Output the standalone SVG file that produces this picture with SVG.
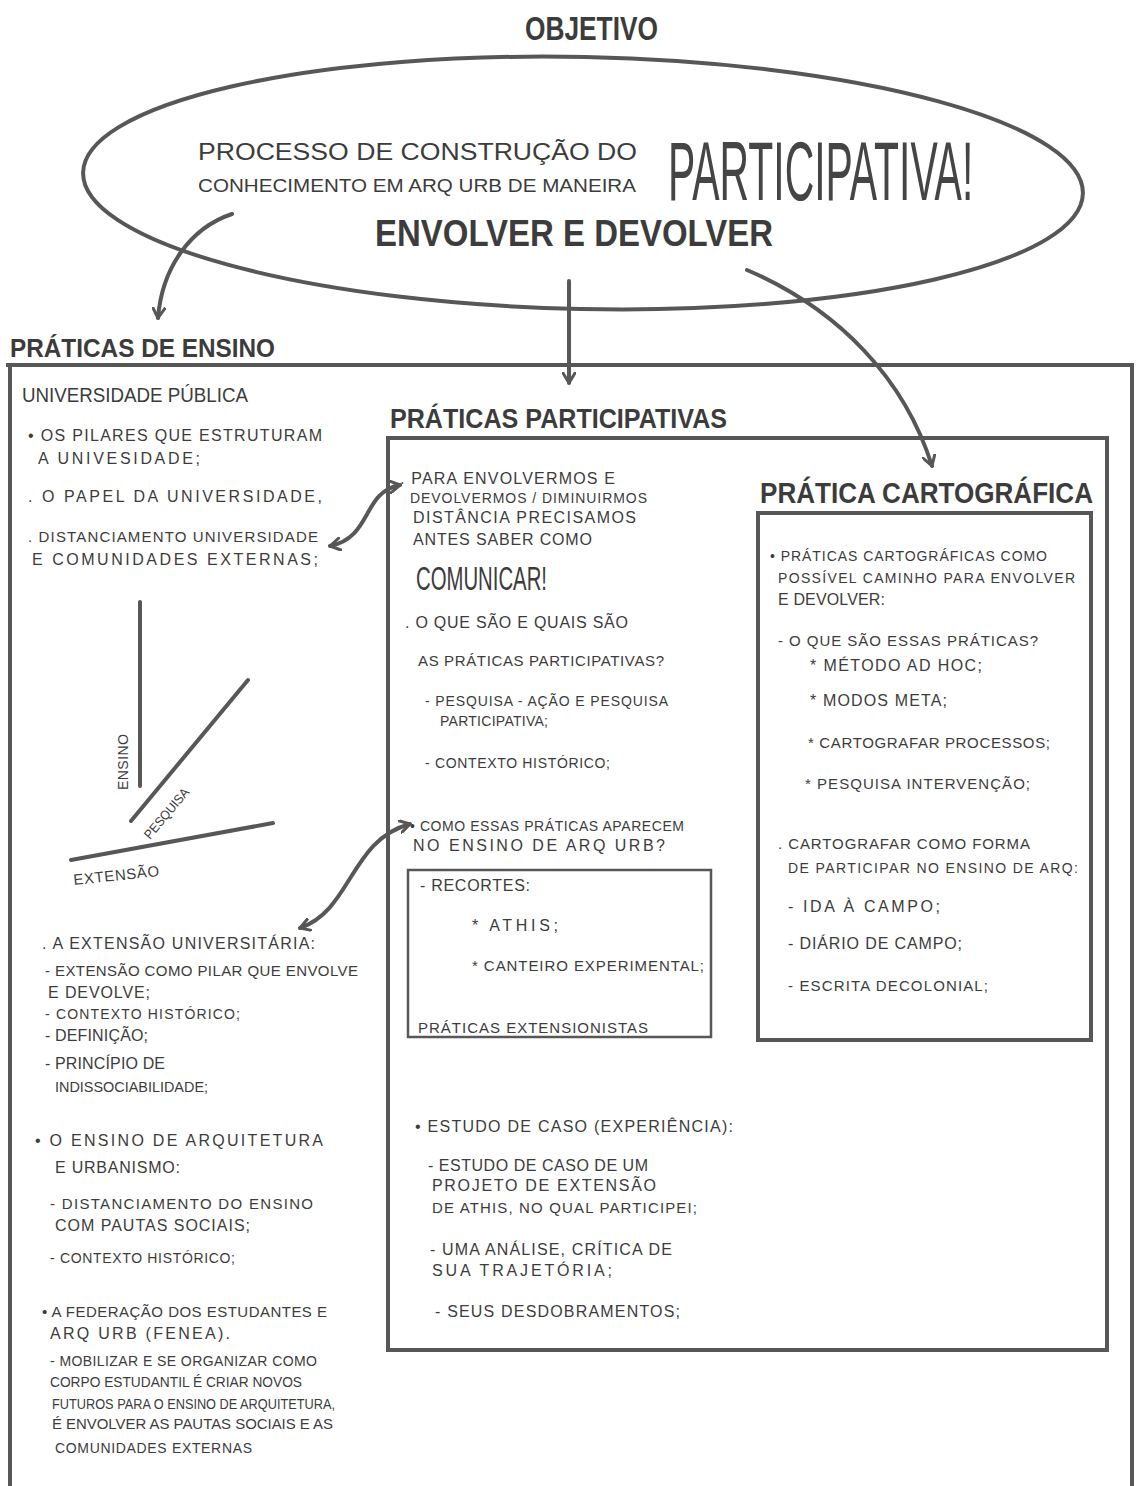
<svg xmlns="http://www.w3.org/2000/svg" width="1136" height="1486" viewBox="0 0 1136 1486">
<style>
.t{font-family:"Liberation Sans",Arial,sans-serif;fill:#3c3c3c;font-size:16px}
.m{font-size:15px}
.s{font-size:14px}
.xs{font-size:14px}
.h{font-weight:bold}
.big{font-family:"Liberation Sans",Arial,sans-serif;font-size:84px;fill:#454545}
.box{fill:none;stroke:#575757;stroke-width:4}
.ln{fill:none;stroke:#575757;stroke-width:4;stroke-linecap:round}
</style>
<defs>
<marker id="arr" viewBox="0 0 14 14" refX="11" refY="7" markerWidth="14" markerHeight="14" markerUnits="userSpaceOnUse" orient="auto-start-reverse">
<path d="M1,1 L11,7 L1,13" fill="none" stroke="#575757" stroke-width="3" stroke-linecap="round" stroke-linejoin="round"/>
</marker>
</defs>
<rect width="1136" height="1486" fill="#fff"/>

<g id="objetivo">
<text class="t h" x="525" y="40" style="font-size:34px" textLength="133" lengthAdjust="spacingAndGlyphs">OBJETIVO</text>
<ellipse cx="583" cy="183" rx="500" ry="126" fill="none" stroke="#575757" stroke-width="4" transform="rotate(1.2 583 183)"/>
<text class="t" x="198" y="160" style="font-size:23px" textLength="439" lengthAdjust="spacingAndGlyphs">PROCESSO  DE  CONSTRUÇÃO  DO</text>
<text class="t" x="198" y="192" style="font-size:19px" textLength="438" lengthAdjust="spacingAndGlyphs">CONHECIMENTO EM ARQ URB DE MANEIRA</text>
<text class="big" transform="translate(668 200) scale(0.487 1)" x="0" y="0">PARTICIPATIVA!</text>
<text class="t h" x="375" y="246" style="font-size:36px" textLength="398" lengthAdjust="spacingAndGlyphs">ENVOLVER  E  DEVOLVER</text>
</g>

<g id="praticas-ensino">
<text class="t h" x="10" y="357" style="font-size:26px" textLength="265" lengthAdjust="spacingAndGlyphs">PRÁTICAS DE ENSINO</text>
<path class="box" d="M6,365 L1132,365 L1132,1490 M10,365 L10,1490"/>
</g>

<g id="universidade-publica">
<text class="t" x="22" y="402" style="font-size:20px" textLength="226" lengthAdjust="spacingAndGlyphs">UNIVERSIDADE PÚBLICA</text>
<text class="t" x="28" y="441" textLength="294">• OS PILARES QUE ESTRUTURAM</text>
<text class="t" x="38" y="464" textLength="162">A UNIVESIDADE;</text>
<text class="t" x="28" y="502" textLength="294">. O PAPEL DA UNIVERSIDADE,</text>
<text class="t m" x="28" y="542" textLength="290">. DISTANCIAMENTO UNIVERSIDADE</text>
<text class="t" x="32" y="565" textLength="286">E COMUNIDADES EXTERNAS;</text>
<line class="ln" x1="140" y1="602" x2="140" y2="786"/>
<line class="ln" x1="131" y1="821" x2="248" y2="680"/>
<line class="ln" x1="71" y1="860" x2="273" y2="823"/>
<text class="t s" transform="translate(128 790) rotate(-90)" textLength="56">ENSINO</text>
<text class="t" style="font-size:13px" transform="translate(150 840) rotate(-50)" textLength="62" lengthAdjust="spacingAndGlyphs">PESQUISA</text>
<text class="t m" transform="translate(74 885) rotate(-6)" textLength="86">EXTENSÃO</text>
<text class="t" x="42" y="949" textLength="273">. A EXTENSÃO UNIVERSITÁRIA:</text>
<text class="t m" x="45" y="976" textLength="313">- EXTENSÃO COMO PILAR QUE ENVOLVE</text>
<text class="t" x="48" y="998" textLength="102">E DEVOLVE;</text>
<text class="t s" x="45" y="1019" textLength="195">- CONTEXTO HISTÓRICO;</text>
<text class="t" x="45" y="1041" textLength="103">- DEFINIÇÃO;</text>
<text class="t" x="45" y="1069" textLength="120">- PRINCÍPIO DE</text>
<text class="t xs" x="55" y="1092" textLength="153" lengthAdjust="spacingAndGlyphs">INDISSOCIABILIDADE;</text>
<text class="t" x="35" y="1146" textLength="288">•  O ENSINO DE ARQUITETURA</text>
<text class="t" x="55" y="1173" textLength="125">E URBANISMO:</text>
<text class="t m" x="50" y="1209" textLength="263">- DISTANCIAMENTO DO ENSINO</text>
<text class="t" x="55" y="1231" textLength="195">COM PAUTAS SOCIAIS;</text>
<text class="t s" x="50" y="1263" textLength="185">- CONTEXTO HISTÓRICO;</text>
<text class="t m" x="42" y="1317" textLength="285">• A FEDERAÇÃO DOS ESTUDANTES E</text>
<text class="t" x="50" y="1339" textLength="180">ARQ URB (FENEA).</text>
<text class="t s" x="50" y="1366" textLength="267">- MOBILIZAR E SE ORGANIZAR COMO</text>
<text class="t xs" x="50" y="1387" textLength="252" lengthAdjust="spacingAndGlyphs">CORPO ESTUDANTIL É CRIAR NOVOS</text>
<text class="t xs" x="52" y="1409" textLength="283" lengthAdjust="spacingAndGlyphs">FUTUROS PARA O ENSINO DE ARQUITETURA,</text>
<text class="t xs" x="52" y="1429" textLength="281" lengthAdjust="spacingAndGlyphs">É ENVOLVER AS PAUTAS SOCIAIS E AS</text>
<text class="t s" x="55" y="1453" textLength="197">COMUNIDADES EXTERNAS</text>
</g>

<g id="praticas-participativas">
<text class="t h" x="390" y="428" style="font-size:27px" textLength="337" lengthAdjust="spacingAndGlyphs">PRÁTICAS PARTICIPATIVAS</text>
<rect class="box" x="388" y="438" width="719" height="912"/>
<text class="t" x="400" y="484" textLength="215">. PARA ENVOLVERMOS E</text>
<text class="t s" x="410" y="503" textLength="237">DEVOLVERMOS / DIMINUIRMOS</text>
<text class="t" x="413" y="523" textLength="223">DISTÂNCIA PRECISAMOS</text>
<text class="t" x="413" y="545" textLength="179">ANTES SABER COMO</text>
<text class="t" x="416" y="590" style="font-size:33px" textLength="131" lengthAdjust="spacingAndGlyphs">COMUNICAR!</text>
<text class="t" x="405" y="628" textLength="223">. O QUE SÃO E QUAIS SÃO</text>
<text class="t m" x="418" y="666" textLength="246">AS PRÁTICAS PARTICIPATIVAS?</text>
<text class="t s" x="425" y="706" textLength="243">- PESQUISA - AÇÃO E PESQUISA</text>
<text class="t s" x="440" y="726" textLength="108">PARTICIPATIVA;</text>
<text class="t s" x="425" y="768" textLength="185">- CONTEXTO HISTÓRICO;</text>
<text class="t s" x="410" y="831" textLength="274">• COMO ESSAS PRÁTICAS APARECEM</text>
<text class="t" x="413" y="851" textLength="252">NO ENSINO DE ARQ URB?</text>
<text class="t" x="415" y="1132" textLength="318">• ESTUDO DE CASO (EXPERIÊNCIA):</text>
<text class="t" x="428" y="1171" textLength="220">- ESTUDO DE CASO DE UM</text>
<text class="t" x="432" y="1191" textLength="224">PROJETO DE EXTENSÃO</text>
<text class="t m" x="432" y="1213" textLength="265">DE ATHIS, NO QUAL PARTICIPEI;</text>
<text class="t" x="430" y="1255" textLength="242">- UMA ANÁLISE, CRÍTICA DE</text>
<text class="t" x="432" y="1276" textLength="180">SUA TRAJETÓRIA;</text>
<text class="t" x="435" y="1317" textLength="245">- SEUS DESDOBRAMENTOS;</text>
</g>

<g id="recortes">
<rect x="408" y="870" width="303" height="167" fill="none" stroke="#575757" stroke-width="2.5"/>
<text class="t" x="420" y="891" textLength="110">- RECORTES:</text>
<text class="t" x="472" y="931" textLength="86">* ATHIS;</text>
<text class="t m" x="472" y="971" textLength="232">* CANTEIRO EXPERIMENTAL;</text>
<text class="t m" x="418" y="1033" textLength="230">PRÁTICAS EXTENSIONISTAS</text>
</g>

<g id="pratica-cartografica">
<text class="t h" x="760" y="503" style="font-size:29px" textLength="333" lengthAdjust="spacingAndGlyphs">PRÁTICA CARTOGRÁFICA</text>
<rect class="box" x="758" y="513" width="333" height="527"/>
<text class="t s" x="770" y="561" textLength="277">• PRÁTICAS CARTOGRÁFICAS COMO</text>
<text class="t s" x="778" y="583" textLength="297">POSSÍVEL CAMINHO PARA ENVOLVER</text>
<text class="t" x="778" y="605" textLength="107">E DEVOLVER:</text>
<text class="t m" x="778" y="646" textLength="260">- O QUE SÃO ESSAS PRÁTICAS?</text>
<text class="t" x="810" y="671" textLength="172">* MÉTODO AD HOC;</text>
<text class="t" x="810" y="706" textLength="137">* MODOS META;</text>
<text class="t m" x="808" y="748" textLength="242">* CARTOGRAFAR PROCESSOS;</text>
<text class="t m" x="805" y="789" textLength="225">* PESQUISA INTERVENÇÃO;</text>
<text class="t m" x="778" y="849" textLength="252">. CARTOGRAFAR COMO FORMA</text>
<text class="t s" x="788" y="873" textLength="290">DE PARTICIPAR NO ENSINO DE ARQ:</text>
<text class="t" x="788" y="912" textLength="152">- IDA À CAMPO;</text>
<text class="t" x="788" y="949" textLength="174">- DIÁRIO DE CAMPO;</text>
<text class="t m" x="788" y="991" textLength="200">- ESCRITA DECOLONIAL;</text>
</g>

<g id="connectors">
<path class="ln" d="M232,214 C190,228 162,268 158,318" marker-end="url(#arr)"/>
<path class="ln" d="M569,281 L569,383" marker-end="url(#arr)"/>
<path class="ln" d="M747,270 C840,310 905,380 932,466" marker-end="url(#arr)"/>
<path class="ln" d="M330,546 C372,538 362,492 400,485" marker-start="url(#arr)" marker-end="url(#arr)"/>
<path class="ln" d="M300,928 C352,910 350,840 410,824" marker-start="url(#arr)" marker-end="url(#arr)"/>
</g>
</svg>
